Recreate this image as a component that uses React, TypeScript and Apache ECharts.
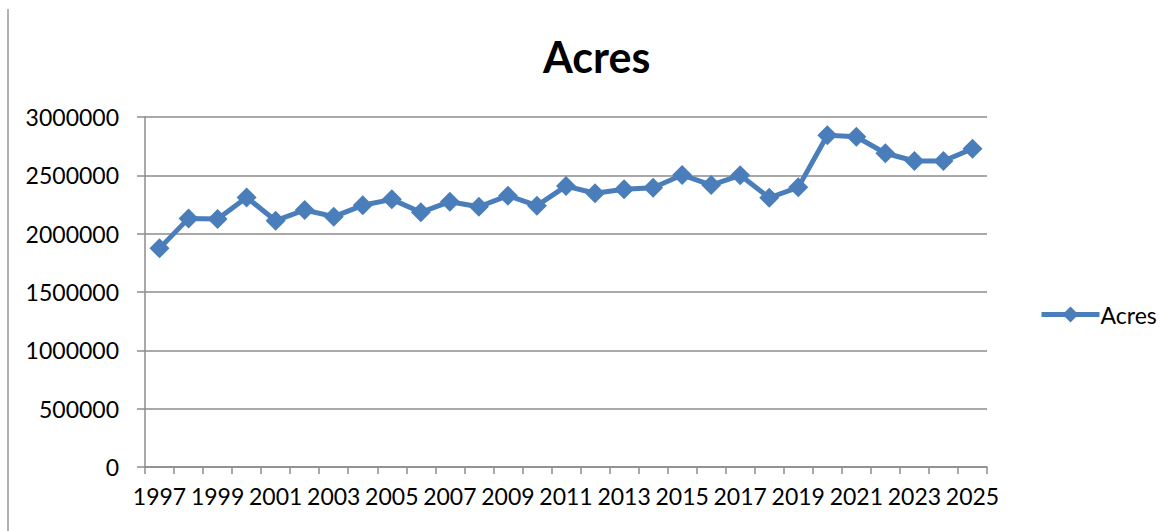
import React, { useEffect, useRef } from "react";
import * as echarts from "echarts";

const years: string[] = [
  "1997","1998","1999","2000","2001","2002","2003","2004","2005","2006",
  "2007","2008","2009","2010","2011","2012","2013","2014","2015","2016",
  "2017","2018","2019","2020","2021","2022","2023","2024","2025",
];
const acres: number[] = [
  1874000, 2131000, 2126000, 2311000, 2111000, 2203000, 2146000, 2243000, 2294000, 2183000,
  2274000, 2231000, 2326000, 2240000, 2408000, 2346000, 2380000, 2394000, 2503000, 2417000,
  2500000, 2308000, 2397000, 2843000, 2831000, 2689000, 2623000, 2623000, 2728000,
];
const seriesName = "Acres";
const titleText = "Acres";

const FONT = "Lato, 'Open Sans', sans-serif";
const BLUE = "#4A7EBB";
const GRAY = "#8C8C8C";

export default function App() {
  const ref = useRef<HTMLDivElement>(null);
  useEffect(() => {
    document.body.style.margin = "0";
    const chart = echarts.init(ref.current!, null, { renderer: "svg" });
    chart.setOption({
      animation: false,
      backgroundColor: "#ffffff",
      title: {
        text: titleText,
        left: 538,
        top: 30,
        textStyle: { fontFamily: FONT, fontSize: 43, fontWeight: "bold", color: "#000" },
      },
      legend: {
        left: 1034,
        top: 298,
        itemWidth: 58,
        itemHeight: 20,
        itemGap: 4,
        lineStyle: { width: 5 },
        textStyle: { fontFamily: FONT, fontSize: 23, color: "#000", padding: [0, 0, 0, -4] },
        data: [seriesName],
      },
      grid: { left: 145, right: 188, top: 117, bottom: 64, containLabel: false },
      xAxis: {
        type: "category",
        data: years,
        boundaryGap: true,
        axisLine: { lineStyle: { color: GRAY, width: 1.5 } },
        axisTick: { show: true, interval: 0, length: 7, lineStyle: { color: GRAY, width: 1.5 } },
        axisLabel: { interval: 1, margin: 17, fontFamily: FONT, fontSize: 23, color: "#000" },
        splitLine: { show: false },
      },
      yAxis: {
        type: "value",
        min: 0,
        max: 3000000,
        interval: 500000,
        axisLine: { show: true, lineStyle: { color: GRAY, width: 1.5 } },
        axisTick: { show: true, length: 8, lineStyle: { color: GRAY, width: 1.5 } },
        axisLabel: {
          margin: 26,
          fontFamily: FONT,
          fontSize: 23,
          color: "#000",
          formatter: (v: number) => String(v),
        },
        splitLine: { show: true, lineStyle: { color: GRAY, width: 1.5 } },
      },
      graphic: [
        {
          type: "line",
          shape: { x1: 8, y1: 9, x2: 8, y2: 531 },
          style: { stroke: "#9a9a9a", lineWidth: 1.5 },
        },
      ],
      series: [
        {
          name: seriesName,
          type: "line",
          data: acres,
          symbol: "diamond",
          symbolSize: 20,
          showAllSymbol: true,
          itemStyle: { color: BLUE },
          lineStyle: { color: BLUE, width: 5 },
        },
      ],
    });
    return () => chart.dispose();
  }, []);
  return <div ref={ref} style={{ width: 1175, height: 531 }} />;
}
